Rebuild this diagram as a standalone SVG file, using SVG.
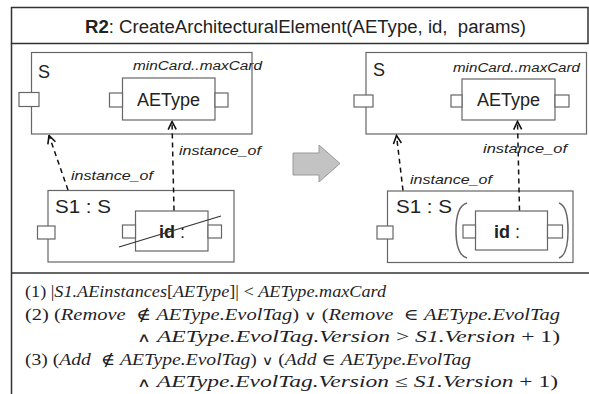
<svg xmlns="http://www.w3.org/2000/svg" width="589" height="394" viewBox="0 0 589 394">
  <defs>
    <marker id="open-arrow" viewBox="0 0 10 10" refX="9" refY="5" markerWidth="10" markerHeight="10" markerUnits="userSpaceOnUse" orient="auto">
      <path d="M1,1 L9,5 L1,9" fill="none" stroke="#111" stroke-width="1.6"/>
    </marker>
    <style>
      .frame { fill: none; stroke: #333; stroke-width: 1.5; }
      .comp { fill: #fff; stroke: #666; stroke-width: 1.2; }
      .port { fill: #fff; stroke: #666; stroke-width: 1.2; }
      .paren { fill: none; stroke: #666; stroke-width: 1.5; }
      .lbl { font-family: "Liberation Sans", Arial, sans-serif; fill: #222; }
      .big { font-size: 18px; }
      .card { font-size: 12.5px; font-style: italic; }
      .inst { font-size: 13px; font-style: italic; }
      .dep { fill: none; stroke: #111; stroke-width: 1.5; stroke-dasharray: 5 4; marker-end: url(#open-arrow); }
      .math { font-family: "Liberation Serif", "DejaVu Serif", serif; font-size: 16px; fill: #1f1f2a; }
      .mi { font-style: italic; }
      .op { font-family: "DejaVu Sans", sans-serif; font-size: 13px; }
    </style>
  </defs>

  <!-- outer table frame -->
  <rect x="11.5" y="7.5" width="576.5" height="36" fill="#f1f1f1" class="frame"/>
  <line x1="11.5" y1="43.5" x2="11.5" y2="394" class="frame"/>
  <line x1="11.5" y1="273" x2="589" y2="273" class="frame"/>
  <text class="lbl" x="85" y="33" font-size="18" textLength="441" lengthAdjust="spacingAndGlyphs"><tspan font-weight="bold">R2</tspan>: CreateArchitecturalElement(AEType, id,&#160; params)</text>

  <!-- left side: before -->
  <g id="S-left">
    <rect x="31.5" y="52.5" width="220.5" height="81.5" class="comp"/>
    <rect x="19" y="92.5" width="20" height="14" class="port"/>
    <text class="lbl big" x="38" y="78">S</text>
    <text class="lbl card" x="133" y="70" textLength="129" lengthAdjust="spacingAndGlyphs">minCard..maxCard</text>
  </g>
  <g id="AEType-left">
    <rect x="122.5" y="78" width="92.5" height="42" class="comp"/>
    <rect x="109.5" y="93" width="13" height="14" class="port"/>
    <rect x="215" y="93" width="13" height="14" class="port"/>
    <text class="lbl big" x="168.5" y="106" text-anchor="middle">AEType</text>
  </g>
  <g id="S1-left">
    <rect x="48" y="190.5" width="186" height="71.5" class="comp"/>
    <rect x="37.5" y="226" width="17.5" height="13" class="port"/>
    <text class="lbl big" x="55" y="213" textLength="56" lengthAdjust="spacingAndGlyphs">S1 : S</text>
  </g>
  <g id="id-left">
    <rect x="135.5" y="211" width="72.5" height="40" class="comp"/>
    <rect x="122.5" y="225" width="13" height="13" class="port"/>
    <rect x="208" y="225" width="13.5" height="13" class="port"/>
    <text class="lbl big" x="159" y="238"><tspan font-weight="bold">id</tspan> :</text>
    <line x1="119" y1="247" x2="221" y2="216" stroke="#333" stroke-width="1.3"/>
  </g>

  <!-- transformation arrow -->
  <g id="transform-arrow">
    <polygon points="293,153 319,153 319,145 340,163.5 319,182 319,175 293,175" fill="#c3c3c3" stroke="#9a9a9a" stroke-width="1"/>
  </g>

  <!-- right side: after -->
  <g id="S-right">
    <rect x="366" y="52.5" width="220.5" height="81.5" class="comp"/>
    <rect x="354" y="95" width="19" height="12" class="port"/>
    <text class="lbl big" x="373" y="76">S</text>
    <text class="lbl card" x="453" y="71.5" textLength="127" lengthAdjust="spacingAndGlyphs">minCard..maxCard</text>
  </g>
  <g id="AEType-right">
    <rect x="462" y="79" width="93" height="41" class="comp"/>
    <rect x="451" y="95" width="11" height="12" class="port"/>
    <rect x="555" y="95" width="14" height="12" class="port"/>
    <text class="lbl big" x="508.5" y="106" text-anchor="middle">AEType</text>
  </g>
  <g id="S1-right">
    <rect x="387.5" y="191" width="185.5" height="71.5" class="comp"/>
    <rect x="377" y="226" width="16" height="13" class="port"/>
    <text class="lbl big" x="396" y="213" textLength="56" lengthAdjust="spacingAndGlyphs">S1 : S</text>
  </g>
  <g id="id-right">
    <path d="M467,203 Q456,206 456,230.5 Q456,255 467,258" class="paren"/>
    <path d="M559,203 Q568,206 568,230.5 Q568,255 559,258" class="paren"/>
    <rect x="475.5" y="211" width="72" height="39" class="comp"/>
    <rect x="463" y="225" width="12.5" height="13" class="port"/>
    <rect x="547.5" y="225" width="15" height="13" class="port"/>
    <text class="lbl big" x="494" y="238"><tspan font-weight="bold">id</tspan> :</text>
  </g>

  <!-- instance_of dependencies -->
  <g id="connectors">
    <line x1="68" y1="190" x2="49" y2="135.5" class="dep"/>
    <line x1="174" y1="210.5" x2="172" y2="121.5" class="dep"/>
    <line x1="403" y1="190.5" x2="396.5" y2="135.5" class="dep"/>
    <line x1="519.5" y1="210.5" x2="517.5" y2="121.5" class="dep"/>
    <text class="lbl inst" x="71" y="180" textLength="82" lengthAdjust="spacingAndGlyphs">instance_of</text>
    <text class="lbl inst" x="179" y="155" textLength="82" lengthAdjust="spacingAndGlyphs">instance_of</text>
    <text class="lbl inst" x="410" y="184" textLength="82" lengthAdjust="spacingAndGlyphs">instance_of</text>
    <text class="lbl inst" x="483" y="153" textLength="84" lengthAdjust="spacingAndGlyphs">instance_of</text>
  </g>

  <!-- application conditions -->
  <g id="conditions">
    <text class="math" x="25" y="297" textLength="361" lengthAdjust="spacingAndGlyphs">(1) |<tspan class="mi">S1.AEinstances</tspan>[<tspan class="mi">AEType</tspan>]| &lt; <tspan class="mi">AEType.maxCard</tspan></text>
    <text class="math" x="25" y="319.5" textLength="535" lengthAdjust="spacingAndGlyphs">(2) (<tspan class="mi">Remove</tspan>&#160; ∉ <tspan class="mi">AEType.EvolTag</tspan>) <tspan class="op">∨</tspan> (<tspan class="mi">Remove</tspan>&#160; ∈ <tspan class="mi">AEType.EvolTag</tspan></text>
    <text class="math" x="137" y="342" textLength="423" lengthAdjust="spacingAndGlyphs"><tspan class="op">∧</tspan> <tspan class="mi">AEType.EvolTag.Version</tspan> &gt; <tspan class="mi">S1.Version</tspan> + 1)</text>
    <text class="math" x="25" y="364.5" textLength="446" lengthAdjust="spacingAndGlyphs">(3) (<tspan class="mi">Add</tspan>&#160; ∉ <tspan class="mi">AEType.EvolTag</tspan>) <tspan class="op">∨</tspan> (<tspan class="mi">Add</tspan> ∈ <tspan class="mi">AEType.EvolTag</tspan></text>
    <text class="math" x="137" y="387" textLength="421" lengthAdjust="spacingAndGlyphs"><tspan class="op">∧</tspan> <tspan class="mi">AEType.EvolTag.Version</tspan> ≤ <tspan class="mi">S1.Version</tspan> + 1)</text>
  </g>
</svg>
